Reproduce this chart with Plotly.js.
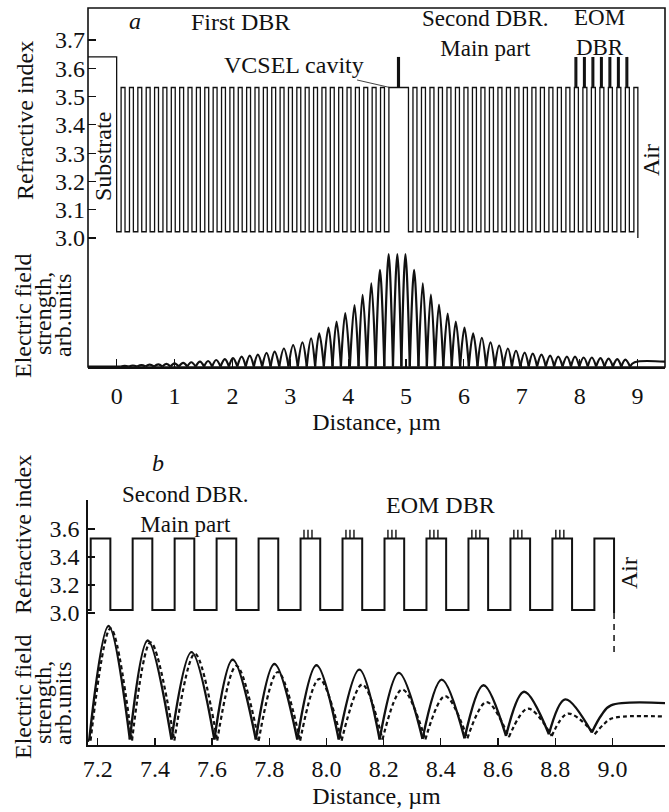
<!DOCTYPE html>
<html><head><meta charset="utf-8">
<script src="https://cdn.plot.ly/plotly-3.0.1.min.js"></script>
<style>html,body{margin:0;padding:0;background:#fff;font-family:"Liberation Serif",serif}</style>
</head><body><div id="chart" style="width:669px;height:812px"></div>
<script>
// ---------------- Data ----------------
// Layer structure (refractive index profile)
const idxSubstrate = 3.64, idxHigh = 3.532, idxLow = 3.022, idxAirEdge = 3.0;
const substrateStart = -0.6, substrateEnd = 0.0;
const firstDbrPairs = 32, firstLowThk = 0.077, firstHighThk = 0.0676;
const cavityThk = 0.338;
const secondDbrPairs = 27, secondLowThk = 0.078, secondHighThk = 0.0688;
const eomHighLayers = [19, 20, 21, 22, 23, 24, 25];
const eomMarkOffsets = [0.012, 0.026, 0.040];
const qwMarkX = [4.855, 4.870, 4.885];
const markTopA = 3.64, markTopB = 3.595;
const airDashBottom = 2.72;

// Panel a: electric field (arb. units, max = 100)
const fieldANodesX = [0.07,0.21,0.355,0.50,0.645,0.79,0.93,1.075,1.22,1.365,1.51,1.65,1.795,1.94,2.085,2.23,2.37,2.515,2.66,2.81,2.97,3.13,3.285,3.43,3.58,3.73,3.875,4.03,4.18,4.325,4.475,4.625,4.775,4.92,5.065,5.215,5.36,5.50,5.645,5.79,5.935,6.085,6.235,6.385,6.535,6.685,6.83,6.975,7.12,7.265,7.415,7.56,7.705,7.85,7.995,8.14,8.285,8.43,8.575,8.72,8.87];
const fieldAPeaksX = [0.14,0.28,0.43,0.57,0.72,0.86,1.00,1.15,1.29,1.44,1.58,1.72,1.87,2.01,2.16,2.30,2.44,2.59,2.73,2.89,3.05,3.21,3.36,3.50,3.66,3.80,3.95,4.11,4.25,4.40,4.55,4.70,4.85,4.99,5.14,5.29,5.43,5.57,5.72,5.86,6.01,6.16,6.31,6.46,6.61,6.76,6.90,7.05,7.19,7.34,7.49,7.63,7.78,7.92,8.07,8.21,8.36,8.50,8.65,8.79];
const fieldAPeaksY = [0.6,0.9,1.2,1.6,1.9,2.4,2.8,3.3,3.8,4.4,4.9,5.8,6.6,7.5,8.8,9.7,10.6,12.1,13.3,16,19,21.5,25,29.5,34.5,40,47.5,54.6,63.7,74,86,100,100,100,86,74,64,55,47,40,34.5,29.5,25.5,21.5,18.6,16,14,12.4,11.5,10.6,9.7,8.8,8.8,8.8,8,8,7.5,7,6.6,6.2];
const fieldAAirStart = 8.95, fieldAAirLevel = 3.8;

// Panel b: electric field, solid curve
const solidNodesX = [7.17,7.3125,7.458,7.608,7.753,7.898,8.043,8.186,8.336,8.483,8.628,8.778,8.928];
const solidNodesY = [2,3,3,3,3,3,3,3,3.5,4,6,7.5,9];
const solidPeaksX = [7.238,7.375,7.528,7.672,7.818,7.965,8.115,8.253,8.403,8.549,8.691,8.835];
const solidPeaksY = [100,87.6,77.7,71.2,67.5,66.4,62.7,59.9,54.2,49.4,43.8,37.3];
const solidRiseX = [8.928, 8.962, 8.995], solidRiseY = [9, 24, 32.2];
const solidAirLevel = 32.2;
// Panel b: electric field, dashed curve
const dashNodesX = [7.175,7.32,7.468,7.618,7.763,7.908,8.053,8.196,8.346,8.493,8.638,8.788,8.938];
const dashNodesY = [2,2,2,2,2,2,2,3,3,4,5,6,7.5];
const dashPeaksX = [7.245,7.385,7.54,7.685,7.83,7.975,8.125,8.265,8.415,8.56,8.705,8.845];
const dashPeaksY = [98,86,76.3,66,60.7,54.8,50,45.8,40.1,35,29.4,25.1];
const dashRiseX = [8.938, 8.97, 9.0], dashRiseY = [7.5, 16, 21.2];
const dashAirLevel = 21.2;

// Ticks
const xTickValsA = [0,1,2,3,4,5,6,7,8,9];
const yTickValsA = [3.0,3.1,3.2,3.3,3.4,3.5,3.6,3.7];
const yTickTextA = ["3.0","3.1","3.2","3.3","3.4","3.5","3.6","3.7"];
const xTickValsB = [7.2,7.4,7.6,7.8,8.0,8.2,8.4,8.6,8.8,9.0];
const xTickTextB = ["7.2","7.4","7.6","7.8","8.0","8.2","8.4","8.6","8.8","9.0"];
const yTickValsB = [3.0,3.2,3.4,3.6];
const yTickTextB = ["3.0","3.2","3.4","3.6"];

// ---------------- Build profile from layer structure ----------------
const profX = [substrateStart], profY = [idxSubstrate];
let pos = substrateEnd;
for (let i = 0; i < firstDbrPairs; i++) {
  profX.push(pos); profY.push(idxLow); pos += firstLowThk;
  profX.push(pos); profY.push(idxHigh); pos += firstHighThk;
}
profX.push(pos); profY.push(idxLow); pos += firstLowThk;
profX.push(pos); profY.push(idxHigh); pos += cavityThk;
const secondHighStarts = [];
for (let i = 0; i < secondDbrPairs; i++) {
  profX.push(pos); profY.push(idxLow); pos += secondLowThk;
  profX.push(pos); profY.push(idxHigh); secondHighStarts.push(pos); pos += secondHighThk;
}
const airBoundary = pos;
profX.push(airBoundary); profY.push(idxAirEdge);

function markLines(xs, bottom, top) {
  const x = [], y = [];
  xs.forEach(v => { x.push(v, v, null); y.push(bottom, top, null); });
  return {x, y};
}
const eomX = [];
eomHighLayers.forEach(k => eomMarkOffsets.forEach(o => eomX.push(secondHighStarts[k] + o)));
const marksA = markLines(eomX.concat(qwMarkX), idxHigh, markTopA);
const marksB = markLines(eomX, idxHigh, markTopB);

function arches(nx, ny, px, py) {
  const x = [], y = [];
  for (let i = 0; i < px.length; i++) {
    x.push(nx[i], px[i], nx[i + 1], null);
    y.push(ny[i], py[i], ny[i + 1], null);
  }
  return {x, y};
}
const aNodesY = fieldANodesX.map(() => 0);
const fa = arches(fieldANodesX, aNodesY, fieldAPeaksX, fieldAPeaksY);
fa.x.push(-0.6, fieldANodesX[0], null, fieldANodesX[fieldANodesX.length-1], fieldAAirStart, 9.6);
fa.y.push(0, 0, null, 0, fieldAAirLevel, fieldAAirLevel);

const fs = arches(solidNodesX, solidNodesY, solidPeaksX, solidPeaksY);
fs.x.push(7.0, solidNodesX[0], null, ...solidRiseX, 9.3);
fs.y.push(0, solidNodesY[0], null, ...solidRiseY, solidAirLevel);
const fd = arches(dashNodesX, dashNodesY, dashPeaksX, dashPeaksY);
fd.x.push(...dashRiseX, 9.3);
fd.y.push(...dashRiseY, dashAirLevel);

// ---------------- Traces ----------------
const K = '#111';
const traces = [
  {x: profX, y: profY, xaxis: 'x', yaxis: 'y', mode: 'lines', line: {shape: 'hv', color: K, width: 1.3}, hoverinfo: 'skip'},
  {x: marksA.x, y: marksA.y, xaxis: 'x', yaxis: 'y', mode: 'lines', line: {color: K, width: 1.4}, hoverinfo: 'skip'},
  {x: fa.x, y: fa.y, xaxis: 'x', yaxis: 'y2', mode: 'lines', line: {shape: 'spline', smoothing: 1, color: K, width: 2.2}, connectgaps: false, hoverinfo: 'skip'},
  {x: profX, y: profY, xaxis: 'x2', yaxis: 'y3', mode: 'lines', line: {shape: 'hv', color: K, width: 2}, hoverinfo: 'skip'},
  {x: marksB.x, y: marksB.y, xaxis: 'x2', yaxis: 'y3', mode: 'lines', line: {color: K, width: 1.4}, hoverinfo: 'skip'},
  {x: [airBoundary, airBoundary], y: [idxAirEdge, airDashBottom], xaxis: 'x2', yaxis: 'y3', mode: 'lines', line: {color: K, width: 1.5, dash: '6px,5px'}, hoverinfo: 'skip'},
  {x: fs.x, y: fs.y, xaxis: 'x2', yaxis: 'y4', mode: 'lines', line: {shape: 'spline', smoothing: 1, color: K, width: 2.4}, connectgaps: false, hoverinfo: 'skip'},
  {x: fd.x, y: fd.y, xaxis: 'x2', yaxis: 'y4', mode: 'lines', line: {shape: 'spline', smoothing: 1, color: K, width: 2.2, dash: '4px,3px'}, connectgaps: false, hoverinfo: 'skip'}
];

// ---------------- Layout ----------------
const L = 88, R = 4, T = 8, B = 67, W = 669 - L - R, PH = 812 - T - B, BOT = 812 - B;
const PX = p => (p - L) / W;
const PY = p => (BOT - p) / PH;
const paBottom = PY(367);
const pbTop = PY(500);
const FONT = 'Liberation Serif';
const FS = 24;

function txt(text, px, py, extra) {
  return Object.assign({text, xref: 'paper', yref: 'paper', x: PX(px), y: PY(py), xanchor: 'center', yanchor: 'middle', showarrow: false, font: {family: FONT, size: FS, color: K}}, extra || {});
}
const twoLine = {font: {family: FONT, size: 23, color: K}, align: 'center'};
const annotations = [
  txt('<i>a</i>', 135, 21),
  txt('First DBR', 240, 22),
  txt('Second DBR.<br>Main part', 485, 34, twoLine),
  txt('EOM<br>DBR', 599, 33, twoLine),
  {text: 'VCSEL cavity', xref: 'x', yref: 'y', x: 4.72, y: idxHigh, ax: -96, ay: -22, showarrow: true, arrowhead: 0, arrowwidth: 0.8, arrowcolor: K, font: {family: FONT, size: FS, color: K}},
  txt('Substrate', 103, 157, {textangle: -90}),
  txt('Air', 651, 160, {textangle: -90}),
  txt('Refractive index', 25, 121, {textangle: -90}),
  txt('Electric field', 23, 316, {textangle: -90}),
  txt('strength,', 43, 314, {textangle: -90}),
  txt('arb.units', 63, 316, {textangle: -90}),
  txt('<i>b</i>', 158, 463),
  txt('Second DBR.<br>Main part', 185, 509, twoLine),
  txt('EOM DBR', 441, 505),
  txt('Air', 629, 573, {textangle: -90}),
  txt('Refractive index', 23, 535, {textangle: -90}),
  txt('Electric field', 23, 697, {textangle: -90}),
  txt('strength,', 43, 703, {textangle: -90}),
  txt('arb.units', 63, 704, {textangle: -90})
];

const axBase = {showgrid: false, zeroline: false, ticks: 'inside', tickcolor: K, tickwidth: 1.2, linecolor: K, linewidth: 1.6, tickfont: {family: FONT, size: FS, color: K}};
const layout = {
  width: 669, height: 812,
  margin: {l: L, r: R, t: T, b: B, pad: 0},
  paper_bgcolor: '#fff', plot_bgcolor: '#fff',
  showlegend: false,
  font: {family: FONT, size: FS, color: K},
  xaxis: Object.assign({}, axBase, {domain: [0, 1], anchor: 'y', range: [-0.495, 9.475], tickmode: 'array', tickvals: xTickValsA, ticklen: 8, showline: true, ticklabelstandoff: 7,
    title: {text: 'Distance, µm', font: {family: FONT, size: FS, color: K}, standoff: 4}}),
  yaxis: Object.assign({}, axBase, {domain: [paBottom, 1], anchor: 'x', range: [2.544, 3.813], tickmode: 'array', tickvals: yTickValsA, ticktext: yTickTextA, ticklen: 8, showline: false, ticklabelstandoff: 2}),
  yaxis2: {domain: [paBottom, 1], overlaying: 'y', anchor: 'x', range: [-0.44, 318.7], visible: false, showgrid: false, zeroline: false},
  xaxis2: Object.assign({}, axBase, {domain: [0, 1], anchor: 'y3', range: [7.166, 9.184], tickmode: 'array', tickvals: xTickValsB, ticktext: xTickTextB, ticklen: 7, showline: true, ticklabelstandoff: 2,
    title: {text: 'Distance, µm', font: {family: FONT, size: FS, color: K}, standoff: 6}}),
  yaxis3: Object.assign({}, axBase, {domain: [0, pbTop], anchor: 'x2', range: [2.057, 3.807], tickmode: 'array', tickvals: yTickValsB, ticktext: yTickTextB, ticklen: 7, showline: true, ticklabelstandoff: 2}),
  yaxis4: {domain: [0, pbTop], overlaying: 'y3', anchor: 'x2', range: [-1.71, 207.7], visible: false, showgrid: false, zeroline: false},
  shapes: [{type: 'rect', xref: 'paper', yref: 'paper', x0: 0, x1: 1, y0: paBottom, y1: 1, line: {color: K, width: 1.6}}],
  annotations
};
Plotly.newPlot('chart', traces, layout, {staticPlot: true, displayModeBar: false});
</script></body></html>
